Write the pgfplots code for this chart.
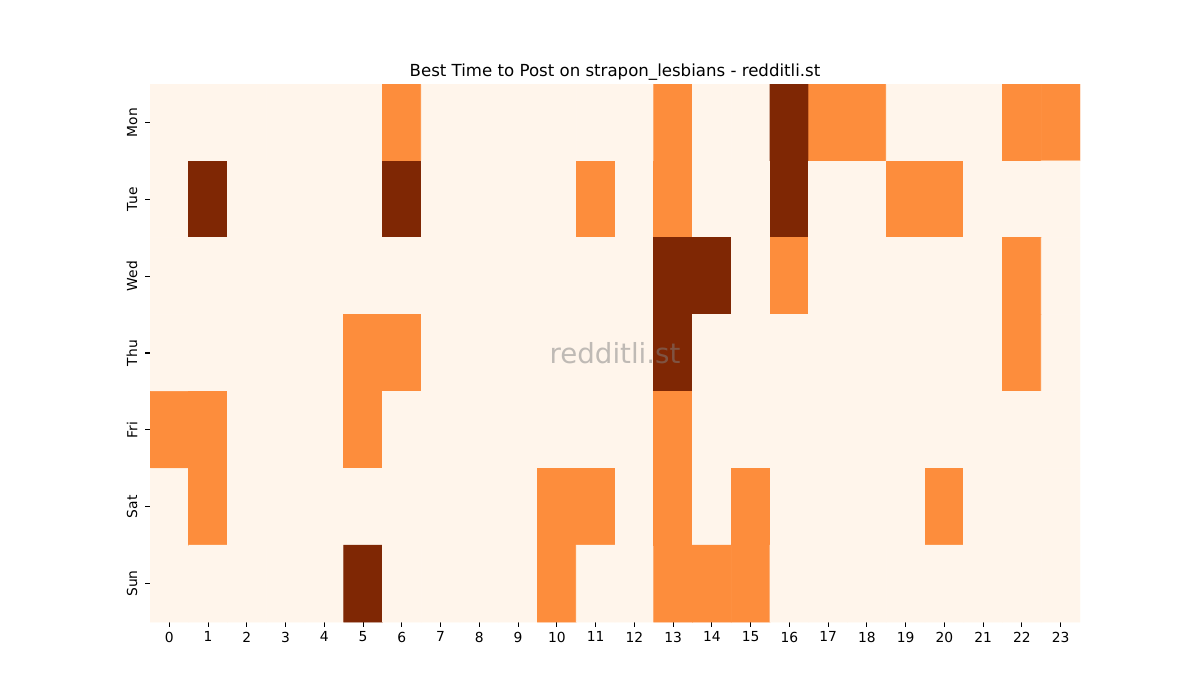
\documentclass[border=0pt]{standalone}
\usepackage{pgfplots}
\pgfplotsset{compat=1.18}
\usepackage{fontspec}
\setmainfont{DejaVu Sans}
\begin{document}
\begin{tikzpicture}[x=1in,y=1in]
\path[use as bounding box] (0,0) rectangle (12,7);
\begin{axis}[
  at={(1.5in,0.78in)}, anchor=south west,
  scale only axis, width=9.3in, height=5.38in,
  xmin=-0.5, xmax=23.5, ymin=-0.5, ymax=6.5,
  y dir=reverse,
  axis line style={draw=none},
  xtick={0,...,23}, ytick={0,...,6},
  yticklabels={Mon,Tue,Wed,Thu,Fri,Sat,Sun},
  yticklabel style={rotate=90, anchor=south, inner sep=5.5pt, font=\fontsize{10}{12}\selectfont},
  xticklabel style={font=\fontsize{10}{12}\selectfont},
  /pgf/number format/assume math mode=true,
  tick align=outside, xtick pos=bottom, ytick pos=left,
  major tick length=3.5pt,
  tick style={black, line width=0.8pt},
  colormap={oranges}{rgb255=(255,245,235) rgb255=(253,141,60) rgb255=(127,39,4)},
  point meta min=0, point meta max=2,
  title={Best Time to Post on strapon\_lesbians - redditli.st},
  title style={at={(0.5,1)}, anchor=base, yshift=-0.01in, font=\fontsize{12}{14}\selectfont},
]
\addplot[matrix plot*, mesh/cols=24, mesh/rows=7, point meta=explicit]
table[row sep=\\, meta=c] {
x y c\\
0 0 0\\ 1 0 0\\ 2 0 0\\ 3 0 0\\ 4 0 0\\ 5 0 0\\ 6 0 1\\ 7 0 0\\ 8 0 0\\ 9 0 0\\ 10 0 0\\ 11 0 0\\ 12 0 0\\ 13 0 1\\ 14 0 0\\ 15 0 0\\ 16 0 2\\ 17 0 1\\ 18 0 1\\ 19 0 0\\ 20 0 0\\ 21 0 0\\ 22 0 1\\ 23 0 1\\
0 1 0\\ 1 1 2\\ 2 1 0\\ 3 1 0\\ 4 1 0\\ 5 1 0\\ 6 1 2\\ 7 1 0\\ 8 1 0\\ 9 1 0\\ 10 1 0\\ 11 1 1\\ 12 1 0\\ 13 1 1\\ 14 1 0\\ 15 1 0\\ 16 1 2\\ 17 1 0\\ 18 1 0\\ 19 1 1\\ 20 1 1\\ 21 1 0\\ 22 1 0\\ 23 1 0\\
0 2 0\\ 1 2 0\\ 2 2 0\\ 3 2 0\\ 4 2 0\\ 5 2 0\\ 6 2 0\\ 7 2 0\\ 8 2 0\\ 9 2 0\\ 10 2 0\\ 11 2 0\\ 12 2 0\\ 13 2 2\\ 14 2 2\\ 15 2 0\\ 16 2 1\\ 17 2 0\\ 18 2 0\\ 19 2 0\\ 20 2 0\\ 21 2 0\\ 22 2 1\\ 23 2 0\\
0 3 0\\ 1 3 0\\ 2 3 0\\ 3 3 0\\ 4 3 0\\ 5 3 1\\ 6 3 1\\ 7 3 0\\ 8 3 0\\ 9 3 0\\ 10 3 0\\ 11 3 0\\ 12 3 0\\ 13 3 2\\ 14 3 0\\ 15 3 0\\ 16 3 0\\ 17 3 0\\ 18 3 0\\ 19 3 0\\ 20 3 0\\ 21 3 0\\ 22 3 1\\ 23 3 0\\
0 4 1\\ 1 4 1\\ 2 4 0\\ 3 4 0\\ 4 4 0\\ 5 4 1\\ 6 4 0\\ 7 4 0\\ 8 4 0\\ 9 4 0\\ 10 4 0\\ 11 4 0\\ 12 4 0\\ 13 4 1\\ 14 4 0\\ 15 4 0\\ 16 4 0\\ 17 4 0\\ 18 4 0\\ 19 4 0\\ 20 4 0\\ 21 4 0\\ 22 4 0\\ 23 4 0\\
0 5 0\\ 1 5 1\\ 2 5 0\\ 3 5 0\\ 4 5 0\\ 5 5 0\\ 6 5 0\\ 7 5 0\\ 8 5 0\\ 9 5 0\\ 10 5 1\\ 11 5 1\\ 12 5 0\\ 13 5 1\\ 14 5 0\\ 15 5 1\\ 16 5 0\\ 17 5 0\\ 18 5 0\\ 19 5 0\\ 20 5 1\\ 21 5 0\\ 22 5 0\\ 23 5 0\\
0 6 0\\ 1 6 0\\ 2 6 0\\ 3 6 0\\ 4 6 0\\ 5 6 2\\ 6 6 0\\ 7 6 0\\ 8 6 0\\ 9 6 0\\ 10 6 1\\ 11 6 0\\ 12 6 0\\ 13 6 1\\ 14 6 1\\ 15 6 1\\ 16 6 0\\ 17 6 0\\ 18 6 0\\ 19 6 0\\ 20 6 0\\ 21 6 0\\ 22 6 0\\ 23 6 0\\
};
\node[text=gray, opacity=0.5, font=\fontsize{20}{24}\selectfont] at (axis cs:11.5,3) {redditli.st};
\end{axis}
\end{tikzpicture}
\end{document}
